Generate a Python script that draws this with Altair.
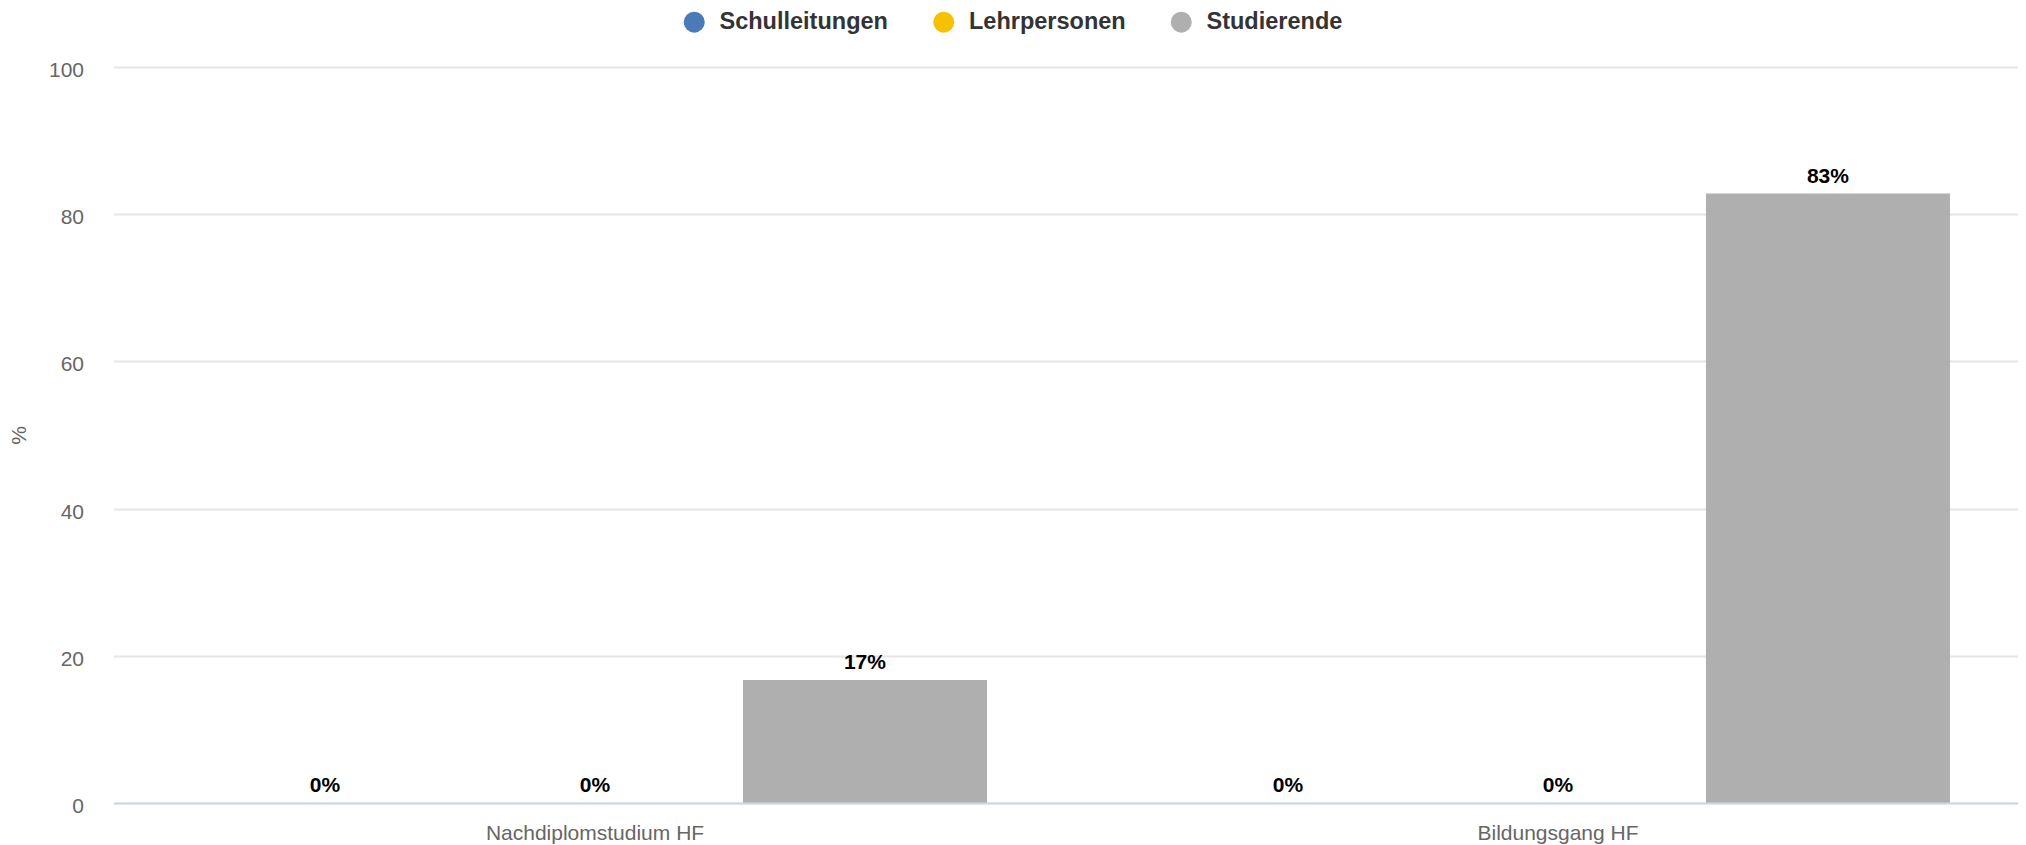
import altair as alt
import pandas as pd

categories = ["Nachdiplomstudium HF", "Bildungsgang HF"]
series = ["Schulleitungen", "Lehrpersonen", "Studierende"]
schulleitungen = [0, 0]
lehrpersonen = [0, 0]
studierende = [16.7, 82.8]
colors = ["#4a7ab8", "#f6c200", "#afafaf"]
y_ticks = [0, 20, 40, 60, 80, 100]

rows = []
for s, vals in zip(series, [schulleitungen, lehrpersonen, studierende]):
    for c, v in zip(categories, vals):
        rows.append({"category": c, "series": s, "value": v})
df = pd.DataFrame(rows)

FONT = "Liberation Sans"
W = 1926
H = 736

x = alt.X(
    "category:N",
    sort=categories,
    title=None,
    scale=alt.Scale(paddingInner=0.159, paddingOuter=0.0795),
    axis=alt.Axis(
        labelAngle=0,
        labelPadding=19,
        labelFontSize=21,
        labelColor="#666666",
        labelFont=FONT,
        labelLimit=600,
        domainColor="#ccd6eb",
        domainWidth=2,
        ticks=False,
        grid=False,
        zindex=1,
    ),
)
xo = alt.XOffset(
    "series:N",
    sort=series,
    scale=alt.Scale(paddingInner=0.096, paddingOuter=0.048),
)
y = alt.Y(
    "value:Q",
    scale=alt.Scale(domain=[0, 100], nice=False),
    axis=alt.Axis(
        values=y_ticks,
        title="%",
        titleFont=FONT,
        titleFontSize=21,
        titleFontWeight="normal",
        titleColor="#666666",
        titlePadding=19,
        labelFont=FONT,
        labelFontSize=21,
        labelColor="#666666",
        labelPadding=30,
        labelOffset=3.5,
        domain=False,
        ticks=False,
        gridColor="#e6e6e6",
        gridWidth=2,
    ),
)

color = alt.Color(
    "series:N",
    sort=series,
    scale=alt.Scale(domain=series, range=colors),
    legend=alt.Legend(
        title=None,
        orient="none",
        direction="horizontal",
        columns=3,
        legendX=569,
        legendY=-57,
        symbolType="circle",
        symbolSize=441,
        symbolStrokeWidth=0,
        symbolOpacity=1,
        labelFont=FONT,
        labelFontSize=23.5,
        labelFontWeight="bold",
        labelColor="#333333",
        labelOffset=13.5,
        columnPadding=43.5,
        labelLimit=400,
        padding=0,
        rowPadding=0,
    ),
)

bars = alt.Chart(df).mark_bar(strokeWidth=0).encode(x=x, xOffset=xo, y=y, color=color)

labels = (
    alt.Chart(df)
    .transform_calculate(label="round(datum.value) + '%'")
    .mark_text(
        font=FONT,
        fontSize=21,
        fontWeight="bold",
        color="#000000",
        baseline="alphabetic",
        dy=-11,
    )
    .encode(x=x, xOffset=xo, y=y, text="label:N")
)

chart = (
    alt.layer(bars, labels)
    .properties(
        width=W,
        height=H,
        autosize=alt.AutoSizeParams(type="none"),
        padding={"left": 105.5, "top": 59, "right": -21.5, "bottom": 42},
    )
    .configure_view(stroke=None)
)

chart.save("out.html", embed_options={"renderer": "svg", "actions": False})
